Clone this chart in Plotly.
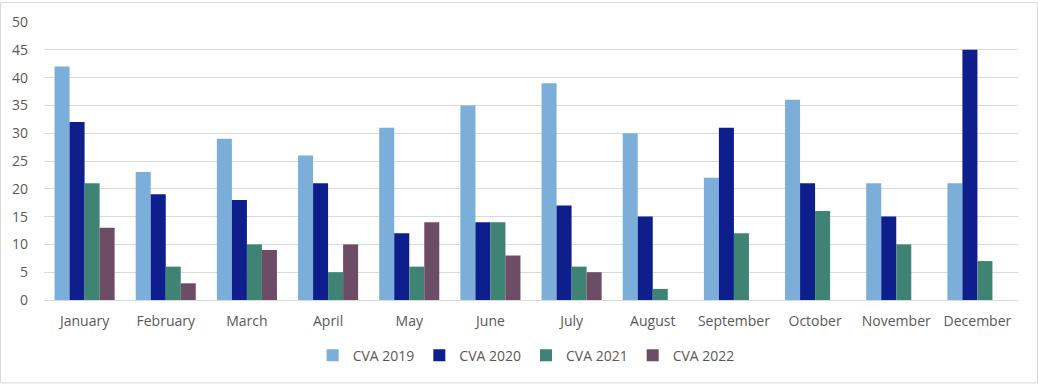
import plotly.graph_objects as go

months = ["January", "February", "March", "April", "May", "June", "July",
          "August", "September", "October", "November", "December"]
cva_2019 = [42, 23, 29, 26, 31, 35, 39, 30, 22, 36, 21, 21]
cva_2020 = [32, 19, 18, 21, 12, 14, 17, 15, 31, 21, 15, 45]
cva_2021 = [21, 6, 10, 5, 6, 14, 6, 2, 12, 16, 10, 7]
cva_2022 = [13, 3, 9, 10, 14, 8, 5, None, None, None, None, None]

series = [("CVA 2019", cva_2019, "#7BAFDA"),
          ("CVA 2020", cva_2020, "#0E1E8C"),
          ("CVA 2021", cva_2021, "#3E8373"),
          ("CVA 2022", cva_2022, "#6D4C65")]

W, H = 1038, 384
ml, mr, mt, mb = 44, 20, 20, 84

fig = go.Figure()
for name, vals, col in series:
    fig.add_trace(go.Bar(x=months, y=vals, name=name, marker_color=col,
                         marker_line_width=0))

pw = W - ml - mr
ph = H - mt - mb
fig.update_layout(
    width=W, height=H,
    margin=dict(l=ml, r=mr, t=mt, b=mb),
    barmode="group", bargap=0.26, bargroupgap=0,
    plot_bgcolor="white", paper_bgcolor="white",
    font=dict(family="Open Sans, Liberation Sans, sans-serif", size=14, color="#595959"),
    yaxis=dict(range=[0, 50], dtick=5, showgrid=True, gridcolor="#D9D9D9",
               gridwidth=1, zeroline=False, showline=False, ticks="",
               ticklabelstandoff=15),
    xaxis=dict(showline=True, linecolor="#D9D9D9", linewidth=1, ticks="",
               ticklabelstandoff=8),
    legend=dict(orientation="h", x=0.495, xanchor="center",
                y=-(356 - (H - mb)) / ph, yanchor="middle",
                font=dict(size=14, color="#595959"), itemwidth=30,
                traceorder="normal"),
    showlegend=True,
)
fig.add_shape(type="rect", xref="paper", yref="paper",
              x0=(0.5 - ml) / pw, x1=(W - 0.5 - ml) / pw,
              y0=-(H - 0.5 - mt - ph) / ph, y1=1 + (mt - 0.5) / ph,
              line=dict(color="#D9D9D9", width=1), layer="below")
fig.write_html("out.html", config={"displayModeBar": False},
               post_script="document.body.style.margin='0';document.body.style.overflow='hidden';")
